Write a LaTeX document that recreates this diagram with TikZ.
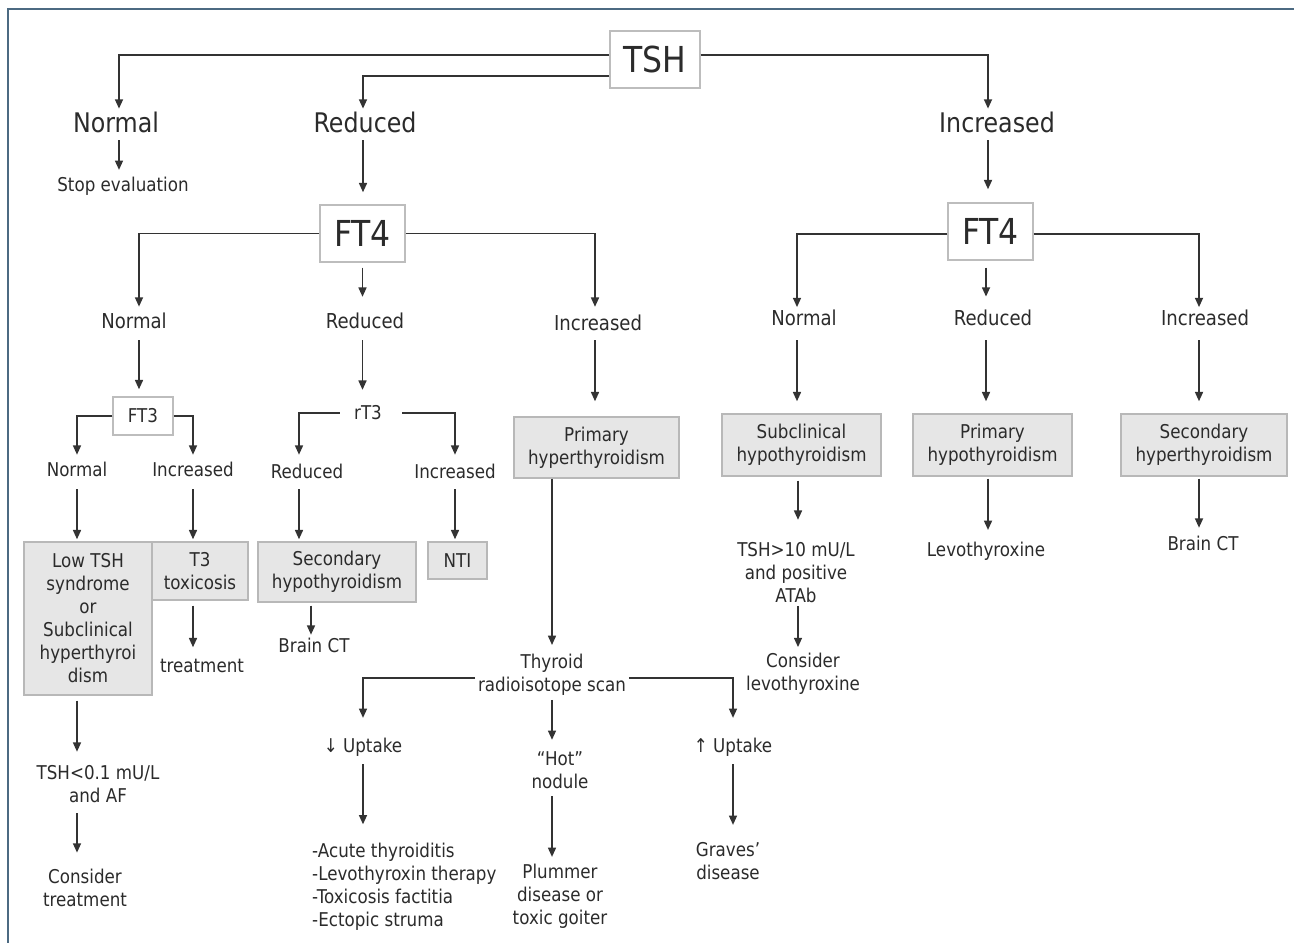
\documentclass[tikz,border=0pt]{standalone}
\usepackage{fontspec}
\setmainfont{DejaVu Sans}[FakeStretch=0.88]
\usetikzlibrary{arrows.meta,calc}
\definecolor{txt}{HTML}{2B2B2B}
\definecolor{ln}{HTML}{333333}
\definecolor{bord}{HTML}{B8B8B8}
\definecolor{wbord}{HTML}{BDBDBD}
\definecolor{boxfill}{HTML}{E6E6E6}
\definecolor{framec}{HTML}{4C6A82}
\newcommand\fHuge{\fontsize{26.8}{30}\selectfont}
\newcommand\fBig{\fontsize{20.25}{24}\selectfont}
\newcommand\fMid{\fontsize{15.4}{18}\selectfont}
\newcommand\fSm{\fontsize{14.25}{17.25}\selectfont}
\begin{document}
\begin{tikzpicture}[x=0.75pt,y=-0.75pt,
 lab/.style={inner sep=2pt, align=center, text=txt, font=\fSm},
 gbox/.style={draw=bord, fill=boxfill, line width=1.1pt, inner sep=0pt, align=center, text=txt, font=\fSm},
 wbox/.style={draw=wbord, fill=white, line width=1.1pt, inner sep=0pt, align=center, text=txt},
 bx/.style 2 args={minimum width=#1, minimum height=#2},
 arr/.style={draw=ln, line width=1.2pt, -{Triangle[length=7pt,width=6pt]}},
 frame/.style={draw=framec, line width=1.2pt}]
\useasboundingbox (0,0) rectangle (1294,943);
\draw[frame] (1294,9) -- (8,9) -- (8,943);

\node[wbox,bx={67.5pt}{42.75pt},font=\fHuge] (tsh) at (655,59.5) {TSH};
\node[lab,font=\fBig] (n1) at (116,122) {Normal};
\node[lab,font=\fBig] (r1) at (365,122) {Reduced};
\node[lab,font=\fBig] (i1) at (997,122) {Increased};
\node[lab] (stop) at (123,186) {Stop evaluation};
\node[wbox,bx={63.75pt}{42.75pt},font=\fHuge] (ft4a) at (362.5,233.5) {FT4};
\node[wbox,bx={63.75pt}{42.75pt},font=\fHuge] (ft4b) at (990.5,231.5) {FT4};
\node[lab,font=\fMid] (na) at (134,321) {Normal};
\node[lab,font=\fMid] (ra) at (365,321) {Reduced};
\node[lab,font=\fMid] (ia) at (598,323) {Increased};
\node[lab,font=\fMid] (nb) at (804,318) {Normal};
\node[lab,font=\fMid] (rb) at (993,318) {Reduced};
\node[lab,font=\fMid] (ib) at (1205,318) {Increased};
\node[wbox,bx={45pt}{28.5pt},font=\fSm] (ft3) at (143,416) {FT3};
\node[lab] (rt3) at (368,413) {rT3};
\node[lab] (nc) at (77,469) {Normal};
\node[lab] (ic) at (193,469) {Increased};
\node[lab] (rd) at (307,471) {Reduced};
\node[lab] (id) at (455,471) {Increased};
\node[gbox,bx={96pt}{114.75pt}] (lowtsh) at (88,618.5) {Low TSH\\syndrome\\or\\Subclinical\\hyperthyroi\\dism};
\node[gbox,bx={72pt}{43.5pt}] (t3tox) at (200,571) {T3\\toxicosis};
\node[gbox,bx={118.5pt}{45pt}] (sechypo) at (337,572) {Secondary\\hypothyroidism};
\node[gbox,bx={44.25pt}{27.75pt}] (nti) at (457.5,560.5) {NTI};
\node[lab] (treat) at (202,666) {treatment};
\node[lab] (bct1) at (314,645) {Brain CT};
\node[lab] (tshlow) at (98,784) {TSH<0.1 mU/L\\and AF};
\node[lab] (constreat) at (85,888) {Consider\\treatment};
\node[gbox,bx={123.75pt}{45.75pt}] (primhyper) at (596.5,447.5) {Primary\\hyperthyroidism};
\node[gbox,bx={119.25pt}{46.5pt}] (subhypo) at (801.5,445) {Subclinical\\hypothyroidism};
\node[gbox,bx={119.25pt}{46.5pt}] (primhypo) at (992.5,445) {Primary\\hypothyroidism};
\node[gbox,bx={124.5pt}{46.5pt}] (sechyper) at (1204,445) {Secondary\\hyperthyroidism};
\node[lab] (tsh10) at (796,572.5) {TSH>10 mU/L\\and positive\\ATAb};
\node[lab] (conslevo) at (803,673.7) {Consider\\levothyroxine};
\node[lab] (levo) at (986,551) {Levothyroxine};
\node[lab] (bct2) at (1203,543) {Brain CT};
\node[lab] (scan) at (552,675) {Thyroid\\radioisotope scan};
\node[lab] (dup) at (363,747) {↓ Uptake};
\node[lab] (hot) at (560,770) {“Hot”\\nodule};
\node[lab] (uup) at (733,747) {↑ Uptake};
\node[lab,anchor=west,align=left] (list) at (309.3,886.7) {-Acute thyroiditis\\-Levothyroxin therapy\\-Toxicosis factitia\\-Ectopic struma};
\node[lab] (plummer) at (560,896.7) {Plummer\\disease or\\toxic goiter};
\node[lab] (graves) at (728,861.5) {Graves’\\disease};

% level 1
\draw[arr] ([yshift=3.4pt]tsh.west) -| ([xshift=2.25pt]n1.north);
\draw[arr] ([yshift=-12.4pt]tsh.west) -| ([xshift=-1.5pt]r1.north);
\draw[arr] ([yshift=3.4pt]tsh.east) -| ([xshift=-6.75pt]i1.north);
\draw[arr,shorten <=3.75pt,shorten >=3pt] ([xshift=2.25pt]n1.south) -- ([xshift=2.25pt]n1.south |- stop.north);
\draw[arr,shorten <=3.75pt,shorten >=9pt] ([xshift=-1.5pt]r1.south) -- ([xshift=-1.5pt]r1.south |- ft4a.north);
\draw[arr,shorten <=3.75pt,shorten >=9.75pt] ([xshift=-6.75pt]i1.south) -- ([xshift=-6.75pt]i1.south |- ft4b.north);

% FT4 left
\draw[arr,shorten >=2.6pt] (ft4a.west) -| ([xshift=3.75pt]na.north);
\draw[arr,shorten <=3.75pt,shorten >=10pt] (ft4a.south) -- (ft4a.south |- ra.north);
\draw[arr,shorten >=4pt] (ft4a.east) -| ([xshift=-2.25pt]ia.north);
% FT4 right
\draw[arr] ([yshift=-1.9pt]ft4b.west) -| ([xshift=-5.25pt]nb.north);
\draw[arr,shorten <=5.25pt,shorten >=7.9pt] ([xshift=-5.25pt]rb.north |- ft4b.south) -- ([xshift=-5.25pt]rb.north);
\draw[arr] ([yshift=-1.9pt]ft4b.east) -| ([xshift=-4.5pt]ib.north);

% down to level 4
\draw[arr,shorten <=6.4pt,shorten >=5.25pt] ([xshift=3.75pt]na.south) -- ([xshift=3.75pt]na.south |- ft3.north);
\draw[arr,shorten <=6.4pt,shorten >=9.8pt] (ft4a.south |- ra.south) -- (ft4a.south |- rt3.north);
\draw[arr,shorten <=4.9pt,shorten >=11.25pt] ([xshift=-2.25pt]ia.south) -- ([xshift=-2.25pt]ia.south |- primhyper.north);
\draw[arr,shorten <=8.6pt,shorten >=9pt] ([xshift=-5.25pt]nb.south) -- ([xshift=-5.25pt]nb.south |- subhypo.north);
\draw[arr,shorten <=8.6pt,shorten >=9pt] ([xshift=-5.25pt]rb.south) -- ([xshift=-5.25pt]rb.south |- primhypo.north);
\draw[arr,shorten <=8.6pt,shorten >=9pt] ([xshift=-4.5pt]ib.south) -- ([xshift=-4.5pt]ib.south |- sechyper.north);

% FT3, rT3
\draw[arr,shorten >=3pt] (ft3.west) -| (nc.north);
\draw[arr,shorten >=3pt] (ft3.east) -| (ic.north);
\draw[arr,shorten >=4.5pt] ([xshift=-8.6pt]rt3.west) -| ([xshift=-6pt]rd.north);
\draw[arr,shorten >=4.5pt] ([xshift=13.1pt]rt3.east) -| (id.north);
\draw[arr,shorten <=7.5pt,shorten >=1.5pt] (nc.south) -- (nc.south |- lowtsh.north);
\draw[arr,shorten <=7.5pt,shorten >=1.5pt] (ic.south) -- (ic.south |- t3tox.north);
\draw[arr,shorten <=6pt,shorten >=1.5pt] ([xshift=-6pt]rd.south) -- ([xshift=-6pt]rd.south |- sechypo.north);
\draw[arr,shorten <=6pt,shorten >=1.5pt] (id.south) -- (id.south |- nti.north);

% below left
\draw[arr,shorten <=3.75pt,shorten >=8pt] ([xshift=-15.75pt]tshlow.north |- lowtsh.south) -- ([xshift=-15.75pt]tshlow.north);
\draw[arr,shorten <=5.7pt,shorten >=10.2pt] ([xshift=-15.75pt]tshlow.south) -- ([xshift=-15.75pt]tshlow.south |- constreat.north);
\draw[arr,shorten <=3.75pt,shorten >=6.75pt] ([xshift=-6.75pt]treat.north |- t3tox.south) -- ([xshift=-6.75pt]treat.north);
\draw[arr,shorten <=2.25pt] ([xshift=-2.25pt]bct1.north |- sechypo.south) -- ([xshift=-2.25pt]bct1.north);

% right bottom
\draw[arr,shorten <=3pt,shorten >=14.7pt] ([xshift=1.5pt]tsh10.north |- subhypo.south) -- ([xshift=1.5pt]tsh10.north);
\draw[arr,shorten <=0.5pt,shorten >=2.25pt] ([xshift=1.5pt]tsh10.south) -- ([xshift=1.5pt]tsh10.south |- conslevo.north);
\draw[arr,shorten <=1.5pt,shorten >=6.7pt] ([xshift=1.5pt]levo.north |- primhypo.south) -- ([xshift=1.5pt]levo.north);
\draw[arr,shorten <=1.5pt,shorten >=3.75pt] ([xshift=-3pt]bct2.north |- sechyper.south) -- ([xshift=-3pt]bct2.north);

% scan
\draw[arr,shorten >=4.8pt] (scan.north |- primhyper.south) -- (scan.north);
\draw[arr,shorten >=12.75pt] ([yshift=-2.25pt]scan.west) -| (dup.north);
\draw[arr,shorten >=12.75pt] ([yshift=-2.25pt]scan.east) -| (uup.north);
\draw[arr,shorten <=1pt,shorten >=6.5pt] (scan.south) -- (scan.south |- hot.north);
\draw[arr,shorten <=3.75pt,shorten >=11.8pt] (dup.south) -- (dup.south |- list.north);
\draw[arr,shorten <=3.5pt,shorten >=3.5pt] (scan.south |- hot.south) -- (scan.south |- plummer.north);
\draw[arr,shorten <=3.75pt,shorten >=11.25pt] (uup.south) -- (uup.south |- graves.north);
\end{tikzpicture}
\end{document}
